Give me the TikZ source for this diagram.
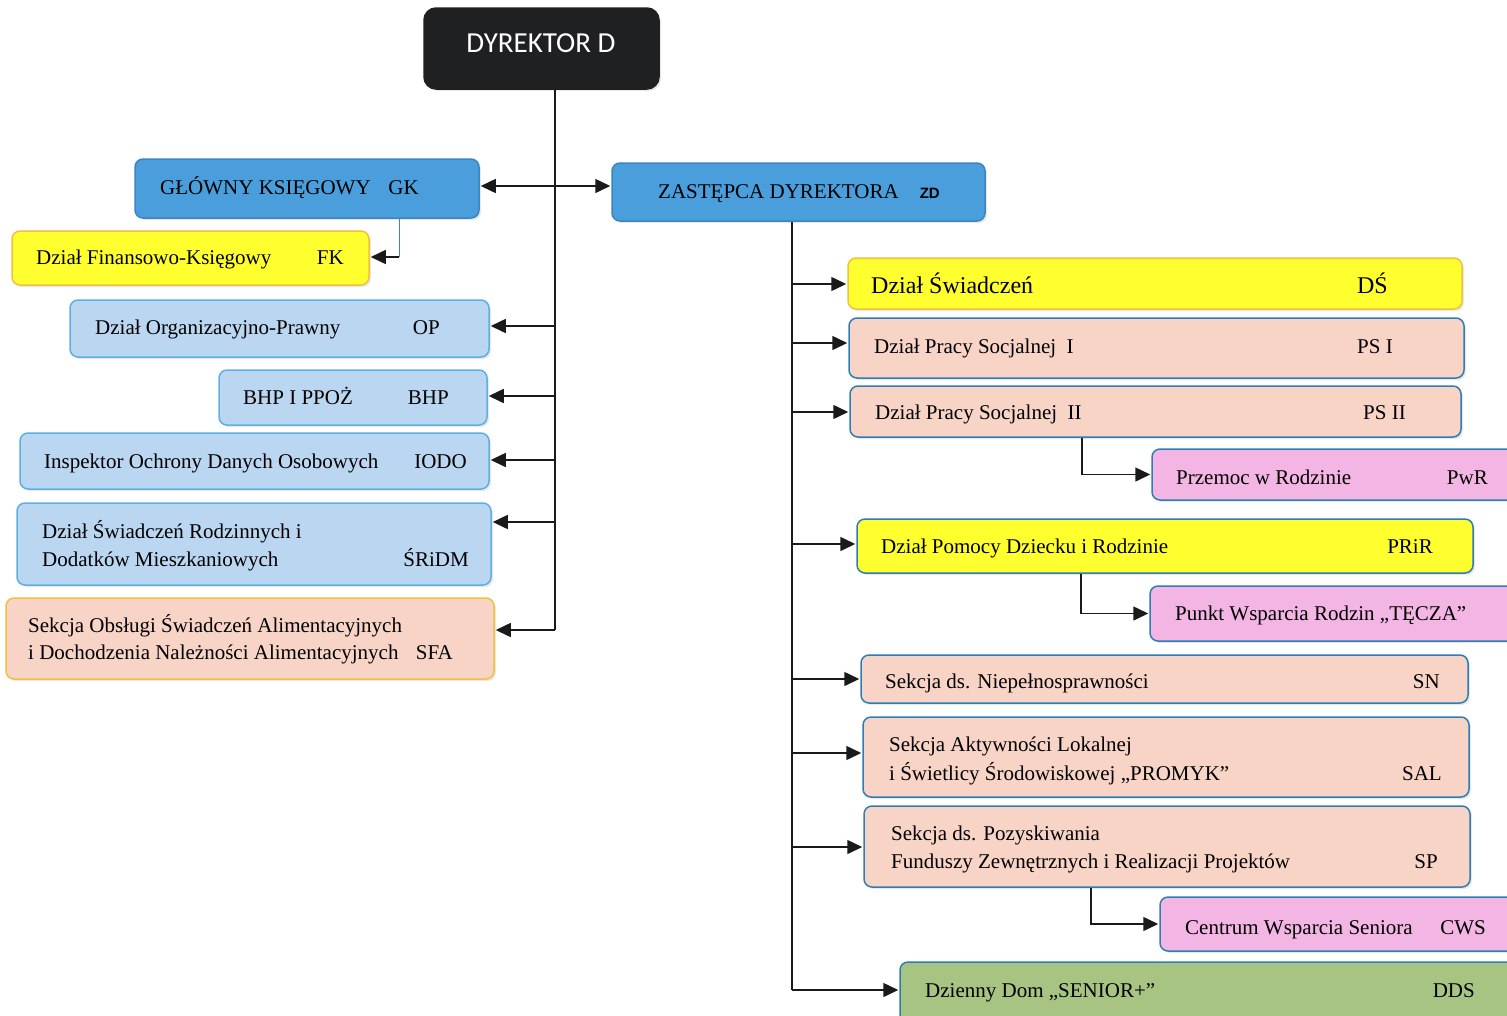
\documentclass[tikz,border=0pt]{standalone}
\usepackage{fontspec}
\setmainfont{Liberation Serif}
\newfontfamily\calibfont{Carlito}
\newfontfamily\arialfont{Liberation Sans}
\usetikzlibrary{arrows.meta,calc,fit,shadows}

\definecolor{dark}{HTML}{1F2021}
\definecolor{midblue}{HTML}{4A9EDB}
\definecolor{midblueb}{HTML}{3B86C2}
\definecolor{lblue}{HTML}{BAD6F1}
\definecolor{lblueb}{HTML}{5DB0E3}
\definecolor{yel}{HTML}{FFFF30}
\definecolor{yelb}{HTML}{F0C040}
\definecolor{salm}{HTML}{F8D4C7}
\definecolor{boxb}{HTML}{2D7DB6}
\definecolor{pnk}{HTML}{F3B5E3}
\definecolor{grn}{HTML}{A7C483}
\definecolor{lnk}{HTML}{1A1A1A}

\begin{document}
\begin{tikzpicture}[x=1pt,y=-1pt,
  box/.style={rounded corners=8pt, line width=1.5pt, inner sep=0pt,
    drop shadow={shadow xshift=2pt,shadow yshift=-2pt,opacity=0.18,fill=gray}},
  bluebox/.style={box, fill=midblue, draw=midblueb},
  lbox/.style={box, fill=lblue, draw=lblueb},
  ybox/.style={box, fill=yel, draw=yelb},
  ybbox/.style={box, fill=yel, draw=boxb},
  sbox/.style={box, fill=salm, draw=boxb},
  sybox/.style={box, fill=salm, draw=yelb},
  pbox/.style={box, fill=pnk, draw=boxb},
  gbox/.style={box, fill=grn, draw=boxb},
  txt/.style={anchor=base west, inner sep=0pt, font=\fontsize{21}{25}\selectfont, text=black},
  code/.style={anchor=base east, inner sep=0pt, font=\fontsize{21}{25}\selectfont, text=black},
  ln/.style={draw=lnk, line width=1.5pt},
  tip/.tip={Triangle[length=15pt,width=14pt]},
  arr/.style={draw=lnk, line width=1.5pt, -tip, shorten >=1pt},
]
\clip (0,0) rectangle (1507,1015);
\fill[white] (0,0) rectangle (1507,1015);

% ---------- boxes ----------
\node[box, fill=dark, draw=dark, rounded corners=12pt, fit={(424,8) (659,89)}] (dyr) {};
\node[font=\calibfont\fontsize{29}{33}\selectfont, text=white, inner sep=0pt] (dyrt) at (541,43) {DYREKTOR D};

\node[bluebox, fit={(135,159) (479,218)}] (gk) {};
\node[bluebox, fit={(612,163) (985,221)}] (zd) {};

\node[ybox, fit={(12,231) (369,285)}] (fk) {};
\node[lbox, fit={(70,300) (489,357)}] (op) {};
\node[lbox, fit={(219,370) (487,425)}] (bhp) {};
\node[lbox, fit={(20,433) (489,489)}] (iodo) {};
\node[lbox, fit={(17,503) (491,585)}] (sridm) {};
\node[sybox, fit={(6,598) (494,679)}] (sfa) {};

\node[ybox, fit={(848,258) (1462,309)}] (ds) {};
\node[sbox, fit={(849,318) (1464,378)}] (ps1) {};
\node[sbox, fit={(850,386) (1461,437)}] (ps2) {};
\node[pbox, fit={(1152,449) (1520,500)}] (pwr) {};
\node[ybbox, fit={(857,519) (1473,573)}] (prir) {};
\node[pbox, fit={(1150,586) (1520,641)}] (tecza) {};
\node[sbox, fit={(861,655) (1468,703)}] (sn) {};
\node[sbox, fit={(863,717) (1469,797)}] (sal) {};
\node[sbox, fit={(864,806) (1470,887)}] (sp) {};
\node[pbox, fit={(1160,897) (1520,951)}] (cws) {};
\node[gbox, fit={(900,962) (1520,1025)}] (dds) {};

% ---------- texts ----------
\node[txt] (gkt) at (160,194) {GŁÓWNY KSIĘGOWY};
\node[code] (gkc) at (419,194) {GK};
\node[txt] (zdt) at (658,198) {ZASTĘPCA DYREKTORA};
\node[code, font=\arialfont\bfseries\fontsize{15}{18}\selectfont] (zdc) at (940,198) {ZD};

\node[txt] (fkt) at (36,264) {Dział Finansowo-Księgowy};
\node[code] (fkc) at (344,264) {FK};
\node[txt] (opt) at (95,334) {Dział Organizacyjno-Prawny};
\node[code] (opc) at (440,334) {OP};
\node[txt] (bhpt) at (243,404) {BHP I PPOŻ};
\node[code] (bhpc) at (449,404) {BHP};
\node[txt] (iodot) at (44,468) {Inspektor Ochrony Danych Osobowych};
\node[code] (iodoc) at (467,468) {IODO};
\node[txt] (sridmt1) at (42,538) {Dział Świadczeń Rodzinnych i};
\node[txt] (sridmt2) at (42,566) {Dodatków Mieszkaniowych};
\node[code] (sridmc) at (469,566) {ŚRiDM};
\node[txt] (sfat1) at (28,632) {Sekcja Obsługi Świadczeń Alimentacyjnych};
\node[txt] (sfat2) at (28,659) {i Dochodzenia Należności Alimentacyjnych};
\node[code] (sfac) at (453,659) {SFA};

\node[txt, font=\fontsize{24}{28}\selectfont] (dst) at (871,293) {Dział Świadczeń};
\node[code, font=\fontsize{24}{28}\selectfont] (dsc) at (1388,293) {DŚ};
\node[txt] (ps1t) at (874,353) {Dział Pracy Socjalnej\ \ I};
\node[code] (ps1c) at (1393,353) {PS I};
\node[txt] (ps2t) at (875,419) {Dział Pracy Socjalnej\ \ II};
\node[code] (ps2c) at (1406,419) {PS II};
\node[txt] (pwrt) at (1176,484) {Przemoc w Rodzinie};
\node[code] (pwrc) at (1488,484) {PwR};
\node[txt] (prirt) at (881,553) {Dział Pomocy Dziecku i Rodzinie};
\node[code] (prirc) at (1433,553) {PRiR};
\node[txt] (teczat) at (1175,620) {Punkt Wsparcia Rodzin „TĘCZA”};
\node[txt] (snt) at (885,688) {Sekcja ds. Niepełnosprawności};
\node[code] (snc) at (1440,688) {SN};
\node[txt] (salt1) at (889,751) {Sekcja Aktywności Lokalnej};
\node[txt] (salt2) at (889,780) {i Świetlicy Środowiskowej „PROMYK”};
\node[code] (salc) at (1442,780) {SAL};
\node[txt] (spt1) at (891,840) {Sekcja ds. Pozyskiwania};
\node[txt] (spt2) at (891,868) {Funduszy Zewnętrznych i Realizacji Projektów};
\node[code] (spc) at (1438,868) {SP};
\node[txt] (cwst) at (1185,934) {Centrum Wsparcia Seniora};
\node[code] (cwsc) at (1486,934) {CWS};
\node[txt] (ddst) at (925,997) {Dzienny Dom „SENIOR+”};
\node[code] (ddsc) at (1475,997) {DDS};

% ---------- left connectors ----------
\coordinate (vbot) at (555,630);
\draw[ln] (dyr.south -| vbot) -- (vbot);
\coordinate (gz) at (555,186);
\draw[arr, tip-tip, shorten <=1pt] (gz -| gk.east) -- (gz -| zd.west);
\coordinate (fkx) at (399,257);
\draw[draw=midblueb, line width=1pt] (gk.south -| fkx) -- (fkx);
\draw[arr] (fkx) -- (fkx -| fk.east);
\coordinate (aop) at (555,326);
\draw[arr] (aop) -- (aop -| op.east);
\coordinate (abhp) at (555,396);
\draw[arr] (abhp) -- (abhp -| bhp.east);
\coordinate (aiodo) at (555,460);
\draw[arr] (aiodo) -- (aiodo -| iodo.east);
\coordinate (asridm) at (555,522);
\draw[arr] (asridm) -- (asridm -| sridm.east);
\draw[arr] (vbot) -- (vbot -| sfa.east);

% ---------- right connectors ----------
\coordinate (zbot) at (792,990);
\draw[ln] (zd.south -| zbot) -- (zbot);
\coordinate (bds) at (792,284);
\draw[arr] (bds) -- (bds -| ds.west);
\coordinate (bps1) at (792,343);
\draw[arr] (bps1) -- (bps1 -| ps1.west);
\coordinate (bps2) at (792,412);
\draw[arr] (bps2) -- (bps2 -| ps2.west);
\coordinate (bprir) at (792,544);
\draw[arr] (bprir) -- (bprir -| prir.west);
\coordinate (bsn) at (792,679);
\draw[arr] (bsn) -- (bsn -| sn.west);
\coordinate (bsal) at (792,753);
\draw[arr] (bsal) -- (bsal -| sal.west);
\coordinate (bsp) at (792,847);
\draw[arr] (bsp) -- (bsp -| sp.west);
\draw[arr] (zbot) -- (zbot -| dds.west);

\coordinate (s1) at (1082,0);
\draw[arr] (ps2.south -| s1) |- (pwr.west);
\coordinate (s2) at (1081,0);
\draw[arr] (prir.south -| s2) |- (tecza.west);
\coordinate (s3) at (1091,0);
\draw[arr] (sp.south -| s3) |- (cws.west);
\end{tikzpicture}
\end{document}
